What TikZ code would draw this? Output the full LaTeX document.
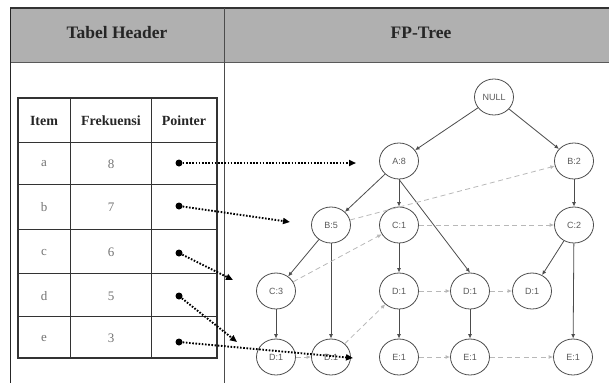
\documentclass[tikz,border=0pt]{standalone}
\usepackage{fontspec}
\setmainfont{Liberation Serif}
\setsansfont{Liberation Sans}
\usetikzlibrary{arrows.meta,shapes.geometric}
\definecolor{hdrgray}{HTML}{B0B0B0}
\begin{document}
\begin{tikzpicture}[x=1pt,y=-1pt,
 tn/.style={draw=black!70, line width=0.8pt, ellipse, minimum width=39pt, minimum height=36pt, inner sep=0pt, font=\sffamily\fontsize{9}{10}\selectfont, text=black!65},
 tedge/.style={draw=black!70, line width=0.8pt, -{Latex[length=4.5pt,width=4pt]}},
 link/.style={draw=black!28, line width=0.8pt, dash pattern=on 5pt off 3.5pt, -{Latex[length=4.5pt,width=4pt]}},
 ptr/.style={draw=black, line width=1.9pt, dash pattern=on 1.6pt off 1.6pt, -{Triangle[length=7pt,width=6pt]}},
 pdot/.style={circle, fill=black, inner sep=0pt, minimum size=7pt},
 hdr/.style={font=\bfseries\fontsize{17.5}{20}\selectfont, text=black!85},
 th/.style={font=\bfseries\fontsize{14}{16}\selectfont, text=black!85},
 td/.style={font=\fontsize{13}{15}\selectfont, text=black!55},
 tline/.style={draw=black!80, line width=0.8pt},
]
\useasboundingbox (0,0) rectangle (609,383);
% frame and header
\fill[hdrgray] (10,8) rectangle (609,62);
\draw[black!80, line width=1.6pt] (10,8) -- (609,8);
\draw[black!65, line width=0.9pt] (10,62) -- (609,62);
\draw[black!85, line width=0.9pt] (10,8) -- (10,383);
\draw[black!70, line width=0.7pt] (224,8) -- (224,383);
\node[hdr] (h1) at (117,33) {Tabel Header};
\node[hdr] (h2) at (421,33) {FP-Tree};
% table
\draw[tline, line width=1.2pt] (18,98) rectangle (217,358);
\foreach \x in {70,151} \draw[tline] (\x,98) -- (\x,358);
\foreach \y in {142,184,229,273,316} \draw[tline] (18,\y) -- (217,\y);
\node[th] (c1) at (44,121) {Item};
\node[th] (c2) at (111,121) {Frekuensi};
\node[th] (c3) at (184,121) {Pointer};
\node[td] (ia) at (44,164) {a};
\node[td] (ib) at (44,207) {b};
\node[td] (ic) at (44,252) {c};
\node[td] (id) at (44,296) {d};
\node[td] (ie) at (44,338) {e};
\node[td] (fa) at (111,164) {8};
\node[td] (fb) at (111,207) {7};
\node[td] (fc) at (111,252) {6};
\node[td] (fd) at (111,296) {5};
\node[td] (fe) at (111,338) {3};
\node[pdot] (pa) at (179,163) {};
\node[pdot] (pb) at (179,206) {};
\node[pdot] (pc) at (179,253) {};
\node[pdot] (pd) at (179,296) {};
\node[pdot] (pe) at (179,342) {};
% tree nodes
\node[tn] (null) at (494,97) {NULL};
\node[tn] (a8) at (399,161) {A:8};
\node[tn] (b2) at (574,161) {B:2};
\node[tn] (b5) at (331,225) {B:5};
\node[tn] (c1n) at (399,225) {C:1};
\node[tn] (c2n) at (574,225) {C:2};
\node[tn] (c3n) at (276,291) {C:3};
\node[tn] (d1a) at (399,291) {D:1};
\node[tn] (d1b) at (470,291) {D:1};
\node[tn] (d1c) at (532,291) {D:1};
\node[tn] (d1x) at (276,357) {D:1};
\node[tn] (d1y) at (331,357) {D:1};
\node[tn] (e1a) at (399,357) {E:1};
\node[tn] (e1b) at (470,357) {E:1};
\node[tn] (e1c) at (573,357) {E:1};
% tree edges
\draw[tedge] (null) -- (a8);
\draw[tedge] (null) -- (b2);
\draw[tedge] (a8) -- (b5);
\draw[tedge] (a8) -- (c1n);
\draw[tedge] (a8.south) -- (d1b.north);
\draw[tedge] (b2) -- (c2n);
\draw[tedge] (b5) -- (c3n);
\draw[tedge] (b5) -- (d1y);
\draw[tedge] (c1n) -- (d1a);
\draw[tedge] (c2n) -- (d1c);
\draw[tedge] (c2n) -- (e1c);
\draw[tedge] (c3n) -- (d1x);
\draw[tedge] (d1a) -- (e1a);
\draw[tedge] (d1b) -- (e1b);
% node links
\draw[link] (b5) -- (b2);
\draw[link] (c3n) -- (c1n);
\draw[link] (c1n) -- (c2n);
\draw[link] (d1x) -- (d1y);
\draw[link] (d1y) -- (d1a);
\draw[link] (d1a) -- (d1b);
\draw[link] (d1b) -- (d1c);
\draw[link] (e1a) -- (e1b);
\draw[link] (e1b) -- (e1c);
% pointers
\coordinate (ta) at (356,163);
\coordinate (tb) at (290,222);
\coordinate (tc) at (233,280);
\coordinate (td) at (237,342);
\coordinate (te) at (353,358);
\draw[ptr] (pa) -- (ta);
\draw[ptr] (pb) -- (tb);
\draw[ptr] (pc) -- (tc);
\draw[ptr] (pd) -- (td);
\draw[ptr] (pe) -- (te);
\end{tikzpicture}
\end{document}
